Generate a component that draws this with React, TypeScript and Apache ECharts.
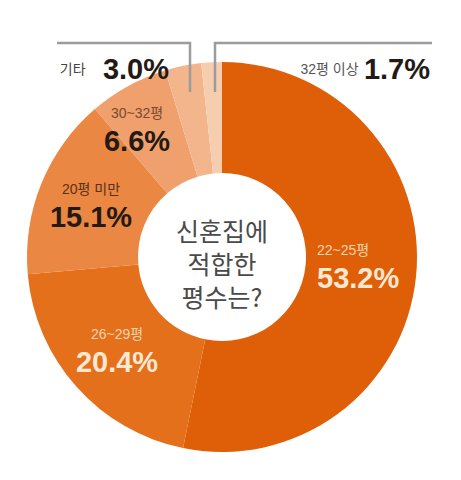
import React, { useEffect, useRef } from "react";
import * as echarts from "echarts";

const categories = ["22~25평", "26~29평", "20평 미만", "30~32평", "기타", "32평 이상"];
const values = [53.2, 20.4, 15.1, 6.6, 3.0, 1.7];
const percentLabels = ["53.2%", "20.4%", "15.1%", "6.6%", "3.0%", "1.7%"];
const centerTitle = ["신혼집에", "적합한", "평수는?"];

const sliceColors = ["#de5f08", "#e4701c", "#ea8743", "#efa06c", "#f3b68c", "#f7cdb0"];
const catColors = ["#f8d2ac", "#f8d2ac", "#5a3018", "#7a4a30", "#444444", "#555555"];
const pctColors = ["#fde8d2", "#fde8d2", "#231a15", "#231a15", "#231a15", "#231a15"];
const catGaps = [0, 0, 0, 0, 14, 2];
// stacked: two lines; inline: single line
const labelLayouts = [
  { x: 317, y: 239, align: "left", verticalAlign: "top", stacked: true },
  { x: 117, y: 323, align: "center", verticalAlign: "top", stacked: true },
  { x: 91, y: 178, align: "center", verticalAlign: "top", stacked: true },
  { x: 137, y: 102, align: "center", verticalAlign: "top", stacked: true },
  { x: 169, y: 69, align: "right", verticalAlign: "middle", stacked: false },
  { x: 430, y: 69, align: "right", verticalAlign: "middle", stacked: false },
];

const FONT = "'Liberation Sans', 'Noto Sans CJK KR', sans-serif";

export default function App() {
  const ref = useRef<HTMLDivElement>(null);
  useEffect(() => {
    document.body.style.margin = "0";
    const chart = echarts.init(ref.current!, null, { renderer: "svg" });
    const rich: any = {};
    categories.forEach((_, i) => {
      rich["c" + i] = {
        fontSize: 14,
        color: catColors[i],
        fontFamily: FONT,
        lineHeight: 22,
        padding: [0, catGaps[i], 0, 0],
      };
      rich["p" + i] = {
        fontSize: 29,
        fontWeight: "bold",
        color: pctColors[i],
        fontFamily: FONT,
        lineHeight: 34,
      };
    });
    const data = values.map((v, i) => ({
      name: categories[i],
      value: v,
      itemStyle: { color: sliceColors[i] },
      label: {
        formatter: labelLayouts[i].stacked
          ? `{c${i}|${categories[i]}}\n{p${i}|${percentLabels[i]}}`
          : `{c${i}|${categories[i]}} {p${i}|${percentLabels[i]}}`,
        align: labelLayouts[i].align,
        rich,
      },
    }));
    chart.setOption({
      animation: false,
      backgroundColor: "#ffffff",
      series: [
        {
          type: "pie",
          center: [222, 257],
          radius: [84, 195],
          startAngle: 90,
          clockwise: true,
          silent: true,
          emphasis: { disabled: true },
          itemStyle: { borderWidth: 0 },
          label: { show: true, position: "inside", rich },
          labelLine: { show: false },
          labelLayout: (params: any) => {
            const l = labelLayouts[params.dataIndex];
            return { x: l.x, y: l.y, align: l.align, verticalAlign: l.verticalAlign };
          },
          data,
        },
      ],
      graphic: [
        {
          type: "polyline",
          shape: { points: [[57, 43], [190, 43], [190, 92]] },
          style: { stroke: "#9c9c9c", lineWidth: 2.5, fill: null },
          z: 10,
        },
        {
          type: "polyline",
          shape: { points: [[215, 92], [215, 43], [432, 43]] },
          style: { stroke: "#9c9c9c", lineWidth: 2.5, fill: null },
          z: 10,
        },
        {
          type: "text",
          x: 222,
          y: 263,
          style: {
            text: centerTitle.join("\n"),
            fontSize: 25,
            lineHeight: 33,
            fill: "#4a4a4a",
            fontFamily: "'Noto Sans CJK KR', sans-serif",
            align: "center",
            verticalAlign: "middle",
          },
          z: 10,
        },
      ],
    });
    return () => chart.dispose();
  }, []);
  return <div ref={ref} style={{ width: 461, height: 480 }} />;
}
